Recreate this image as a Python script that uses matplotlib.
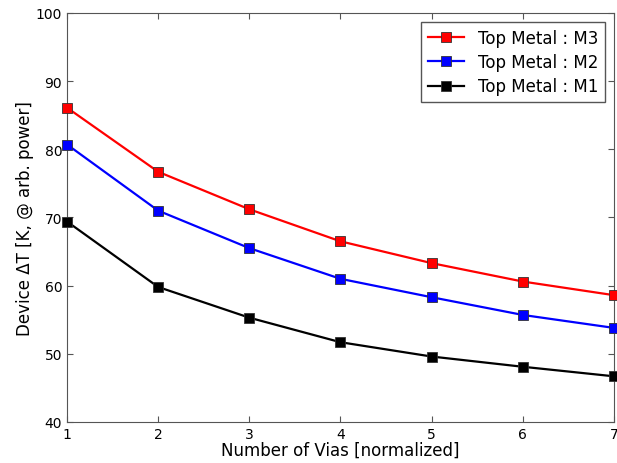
import numpy as np
import matplotlib
matplotlib.use("Agg")
import matplotlib.pyplot as plt

# ---- data ----
n_vias = [1, 2, 3, 4, 5, 6, 7]
dT_m3 = [86.1, 76.7, 71.2, 66.5, 63.3, 60.6, 58.6]
dT_m2 = [80.7, 71.0, 65.5, 61.0, 58.3, 55.7, 53.8]
dT_m1 = [69.4, 59.8, 55.3, 51.7, 49.6, 48.1, 46.7]

series = [
    ("Top Metal : M3", dT_m3, "#ff0000"),
    ("Top Metal : M2", dT_m2, "#0000ff"),
    ("Top Metal : M1", dT_m1, "#000000"),
]

fig = plt.figure(figsize=(6.17, 4.64), dpi=100, facecolor="white")
ax = fig.add_axes([0.1086, 0.0884, 0.8864, 0.8816])

for label, vals, col in series:
    ax.plot(n_vias, vals, "s-", color=col, lw=1.6, markersize=7,
            markeredgecolor="#333333", markeredgewidth=0.6, label=label, clip_on=False, zorder=3)

ax.set_xlim(1, 7)
ax.set_ylim(40, 100)
ax.set_xticks(n_vias)
ax.set_yticks(np.arange(40, 101, 10))
ax.tick_params(direction="in", top=True, right=True, labelsize=10, length=4, color="#555555")
for sp in ax.spines.values():
    sp.set_color("#555555")

ax.set_xlabel("Number of Vias [normalized]", fontsize=12, labelpad=0)
ax.set_ylabel("Device ΔT [K, @ arb. power]", fontsize=12, labelpad=1)

leg = ax.legend(loc="upper right", numpoints=1, fontsize=12, fancybox=False,
                framealpha=1, edgecolor="#555555", handlelength=2.2,
                borderaxespad=0.55, labelspacing=0.38)
leg.get_frame().set_linewidth(1.0)

fig.savefig("out.png", dpi=100, facecolor="white")
